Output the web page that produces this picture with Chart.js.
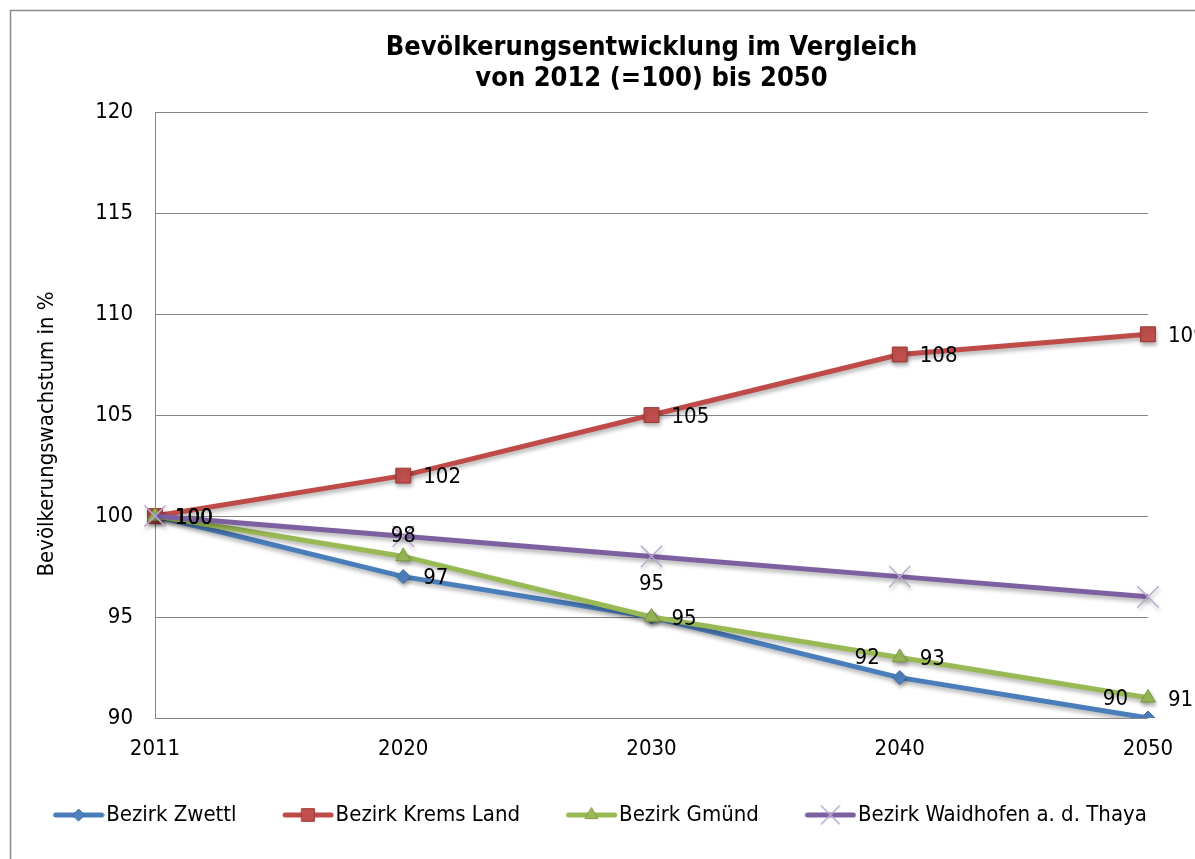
<!DOCTYPE html>
<html>
<head>
<meta charset="utf-8">
<script src="https://cdn.jsdelivr.net/npm/chart.js@4"></script>
<style>
  html, body { margin: 0; padding: 0; background: #fff; }
  #wrap { position: relative; width: 1195px; height: 859px; }
</style>
</head>
<body>
<div id="wrap"><canvas id="chart"></canvas></div>
<script>
// Data
const years = ['2011', '2020', '2030', '2040', '2050'];
const zwettl = [100, 97, 95, 92, 90];
const kremsLand = [100, 102, 105, 108, 109];
const gmuend = [100, 98, 95, 93, 91];
const waidhofen = [100, 99, 98, 97, 96];
const seriesNames = ['Bezirk Zwettl', 'Bezirk Krems Land', 'Bezirk Gmünd', 'Bezirk Waidhofen a. d. Thaya'];
const yTicks = { min: 90, max: 120, step: 5 };

// where each data label sits: r = right, l = upper left, t = above, T = higher above
const zwettlLabelPos = ['r', 'r', 'r', 'l', 'l'];
const kremsLabelPos = ['r', 'r', 'r', 'r', 'r'];
const gmuendLabelPos = ['r', 't', 'T', 'r', 'r'];
const waidhofenLabelPos = [null, null, null, null, null];

const FONT = '"DejaVu Sans Condensed", "DejaVu Sans", sans-serif';

const styles = [
  { line: '#4a7ebb', fill: '#4f81bd', border: '#3d6ca6', point: 'rectRot', r: 7, bw: 1 },
  { line: '#be4b48', fill: '#c0504d', border: '#9c3532', point: 'rect', r: 10.5, bw: 1 },
  { line: '#98b954', fill: '#9bbb59', border: '#7a9a3e', point: 'triangle', r: 8.5, bw: 1 },
  { line: '#7d60a0', fill: 'rgba(0,0,0,0)', border: '#b9a9d0', point: 'crossRot', r: 15, bw: 1.5 },
];

// ── Legend icons: line + marker ─────────────────────────────────────────────
function makeIcon(s) {
  const c = document.createElement('canvas');
  c.width = 66; c.height = 24;
  const ctx = c.getContext('2d');
  ctx.strokeStyle = s.line;
  ctx.lineWidth = 5;
  ctx.lineCap = 'round';
  ctx.beginPath();
  ctx.moveTo(17, 12);
  ctx.lineTo(63, 12);
  ctx.stroke();
  ctx.fillStyle = s.fill;
  ctx.strokeStyle = s.border;
  ctx.lineWidth = s.bw;
  Chart.helpers.drawPoint(ctx, { pointStyle: s.point, radius: s.r * 0.85, rotation: 0, borderWidth: s.bw }, 40, 12);
  return c;
}
const legendIcons = styles.map(makeIcon);

// ── Plugins ──────────────────────────────────────────────────────────────────
const framePlugin = {
  id: 'frame',
  beforeDraw(chart) {
    const ctx = chart.ctx;
    ctx.save();
    ctx.strokeStyle = '#8c8c8c';
    ctx.lineWidth = 1.5;
    ctx.strokeRect(10.5, 10.5, 1300, 1000);
    ctx.restore();
  }
};

const shadowPlugin = {
  id: 'lineShadow',
  beforeDatasetDraw(chart) {
    const ctx = chart.ctx;
    ctx.save();
    ctx.shadowColor = 'rgba(0,0,0,0.3)';
    ctx.shadowBlur = 4;
    ctx.shadowOffsetX = 1;
    ctx.shadowOffsetY = 3;
  },
  afterDatasetDraw(chart) { chart.ctx.restore(); }
};

const labelPos = [zwettlLabelPos, kremsLabelPos, gmuendLabelPos, waidhofenLabelPos];
const dataLabelPlugin = {
  id: 'dataLabels',
  afterDatasetsDraw(chart) {
    const ctx = chart.ctx;
    ctx.save();
    ctx.font = '22px ' + FONT;
    ctx.fillStyle = '#000';
    ctx.textBaseline = 'middle';
    chart.data.datasets.forEach((ds, d) => {
      const meta = chart.getDatasetMeta(d);
      meta.data.forEach((pt, i) => {
        const pos = labelPos[d][i];
        if (!pos) return;
        const txt = String(ds.data[i]);
        if (pos === 'r') { ctx.textAlign = 'left'; ctx.fillText(txt, pt.x + 20, pt.y + 2); }
        else if (pos === 'l') { ctx.textAlign = 'right'; ctx.fillText(txt, pt.x - 20, pt.y - 19); }
        else if (pos === 't') { ctx.textAlign = 'center'; ctx.fillText(txt, pt.x, pt.y - 20); }
        else if (pos === 'T') { ctx.textAlign = 'center'; ctx.fillText(txt, pt.x, pt.y - 33); }
      });
    });
    ctx.restore();
  }
};

// ── Chart ────────────────────────────────────────────────────────────────────
const allSeries = [zwettl, kremsLand, gmuend, waidhofen];
const datasets = allSeries.map((vals, i) => ({
  label: seriesNames[i],
  data: vals,
  borderColor: styles[i].line,
  borderWidth: 5,
  pointStyle: styles[i].point,
  pointRadius: styles[i].r,
  pointBackgroundColor: styles[i].fill,
  pointBorderColor: styles[i].border,
  pointBorderWidth: styles[i].bw,
  tension: 0,
  fill: false,
  order: allSeries.length - i
}));

new Chart(document.getElementById('chart'), {
  type: 'line',
  data: { labels: years, datasets },
  plugins: [framePlugin, shadowPlugin, dataLabelPlugin],
  options: {
    responsive: true,
    maintainAspectRatio: false,
    animation: false,
    layout: { padding: { top: 0, left: 0, right: 0, bottom: 23 } },
    plugins: {
      tooltip: { enabled: false },
      title: {
        display: true,
        fullSize: false,
        text: ['Bevölkerungsentwicklung im Vergleich', 'von 2012 (=100) bis 2050'],
        color: '#000',
        font: { family: FONT, size: 27, weight: 'bold', lineHeight: 1.15 },
        padding: { top: 32, bottom: 18 }
      },
      legend: {
        position: 'bottom',
        labels: {
          usePointStyle: true,
          pointStyleWidth: 47,
          padding: 41,
          color: '#000',
          font: { family: FONT, size: 22 },
          generateLabels: (chart) => chart.data.datasets.map((ds, i) => ({
            text: ds.label,
            pointStyle: legendIcons[i],
            datasetIndex: i,
            hidden: false,
            fontColor: '#000',
            lineWidth: 0,
            strokeStyle: 'rgba(0,0,0,0)',
            fillStyle: 'rgba(0,0,0,0)'
          }))
        }
      }
    },
    scales: {
      x: {
        type: 'category',
        offset: false,
        grid: { display: false, drawTicks: false },
        border: { display: false },
        ticks: { color: '#000', font: { family: FONT, size: 22 }, padding: 18, maxRotation: 0, autoSkip: false },
        afterFit: (s) => { s.height = 45; }
      },
      y: {
        min: yTicks.min,
        max: yTicks.max,
        grid: { color: '#868686', lineWidth: 1, drawTicks: false },
        border: { display: true, color: '#868686', width: 1 },
        ticks: { stepSize: yTicks.step, color: '#000', font: { family: FONT, size: 22 }, padding: 22 },
        title: {
          display: true,
          text: 'Bevölkerungswachstum in %      ',
          color: '#000',
          font: { family: FONT, size: 22 },
          padding: { top: 34, bottom: 0 }
        },
        afterFit: (s) => { s.width = 155; }
      },
      yRight: {
        type: 'linear',
        position: 'right',
        display: true,
        grid: { display: false, drawTicks: false },
        border: { display: false },
        ticks: { display: false },
        afterFit: (s) => { s.width = 47; }
      }
    }
  }
});
</script>
</body>
</html>
